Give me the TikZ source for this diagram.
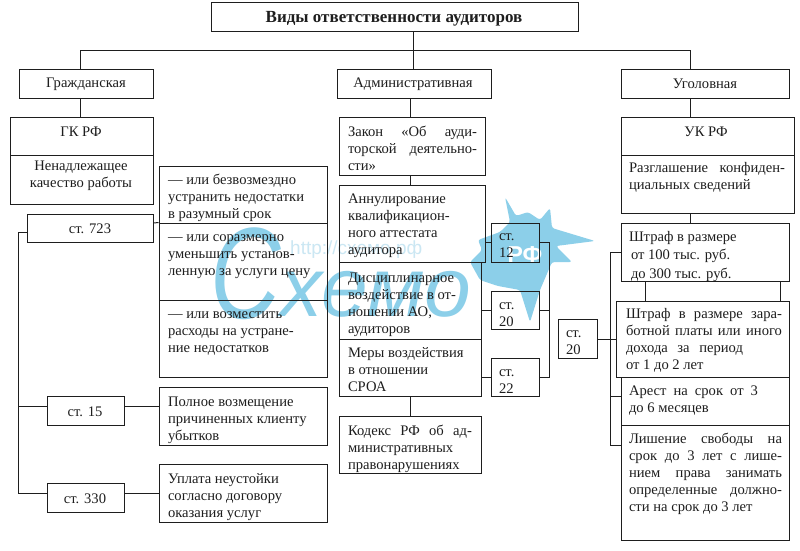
\documentclass[tikz,border=0pt]{standalone}
\usepackage{fontspec}
\setmainfont{Liberation Serif}
\newfontfamily\wmfont{Liberation Sans}
\usetikzlibrary{fit}
\definecolor{ink}{HTML}{1E1E1E}
\definecolor{wmblue}{HTML}{8CCFE9}
\definecolor{wmpale}{HTML}{CBE7F3}
\newcommand\jl[2]{\makebox[#1pt][s]{#2}}
\tikzset{
 x=1pt,y=-1pt,
 box/.style={draw=ink,line width=1pt,inner sep=0pt,rectangle},
 link/.style={draw=ink,line width=1pt},
 txt/.style={text=ink,inner sep=0pt,outer sep=0pt,anchor=north west,align=left,yshift=-2pt,font=\fontsize{14.6}{17}\selectfont},
 ctr/.style={text=ink,inner sep=0pt,outer sep=0pt,align=center,yshift=-1.5pt,font=\fontsize{14.6}{17}\selectfont},
}
\newcommand\bx[5]{\node[box,fit={(#2,#3)(#4,#5)}] (#1) {};}
\begin{document}
\begin{tikzpicture}
\useasboundingbox (0,0) rectangle (800,550);
\fill[white] (0,0) rectangle (800,550);
% watermark
\node[text=wmblue,font=\wmfont\itshape\fontsize{130}{130}\selectfont,inner sep=0pt,anchor=base west,xscale=.75] (wmc) at (210,318) {С};
\node[text=wmblue,font=\wmfont\itshape\fontsize{84}{84}\selectfont,inner sep=0pt,anchor=base west] (wm) at (280,316) {хемо};
\node[text=wmpale,font=\wmfont\fontsize{19}{19}\selectfont,inner sep=0pt,anchor=west] (wmurl) at (290,250) {http://схемо.рф};
\fill[wmblue,rounded corners=2.5pt] (505,197) -- (516,216) -- (528,212) -- (540,220) -- (550,208) -- (552,228) -- (595,241) -- (556,246) -- (572,262) -- (552,262) -- (540,290) -- (530,322) -- (520,290) -- (498,286) -- (480,280) -- (470,262) -- (482,250) -- (478,240) -- (500,232) -- (510,222) -- cycle;
\node[text=white,font=\wmfont\bfseries\fontsize{23}{23}\selectfont,inner sep=0pt] (wmrf) at (525,255) {РФ};
% top
\bx{top}{211}{2}{578}{31}
\node[ctr,font=\bfseries\fontsize{17}{17}\selectfont] (ttop) at (394,17) {Виды ответственности аудиторов};
\bx{civ}{19}{69}{153}{98}
\bx{adm}{337}{69}{491}{98}
\bx{crim}{621}{69}{789}{98}
\node[ctr] (tciv) at (86,83) {Гражданская};
\node[ctr] (tadm) at (413,83) {Административная};
\node[ctr] (tcrim) at (705,82) {Уголовная};
\coordinate (busl) at (80,50); \coordinate (busm) at (413,50); \coordinate (busr) at (690,50);
\draw[link] (civ.north -| busl) -- (busl) -- (busr) -- (crim.north -| busr);
\draw[link] (top.south -| busm) -- (adm.north -| busm);
% left column
\bx{gk}{10}{117}{153}{155}
\bx{nen}{10}{155}{153}{204}
\node[ctr] (tgk) at (81,130) {ГК РФ};
\node[ctr] (tnen) at (81,174) {Ненадлежащее\\качество работы};
\draw[link] (civ.south -| busl) -- (gk.north -| busl);
\bx{a723}{27}{214}{153}{242}
\node[ctr] (ta723) at (90,227) {ст. 723};
\bx{a15}{47}{396}{124}{425}
\node[ctr] (ta15) at (85,410) {ст. 15};
\bx{a330}{47}{483}{124}{512}
\node[ctr] (ta330) at (85,497) {ст. 330};
\bx{r1}{159}{166}{327}{223}
\bx{r2}{159}{223}{327}{300}
\bx{r3}{159}{300}{327}{377}
\bx{r4}{159}{387}{327}{445}
\bx{r5}{159}{464}{327}{522}
\node[txt] (t1) at (168,172) {— или безвозмездно\\устранить недостатки\\в разумный срок};
\node[txt] (t2) at (168,233) {— или соразмерно\\уменьшить установ-\\ленную за услуги цену};
\node[txt] (t3) at (168,310) {— или возместить\\расходы на устране-\\ние недостатков};
\node[txt] (t4) at (168,395) {Полное возмещение\\причиненных клиенту\\убытков};
\node[txt] (t5) at (168,471) {Уплата неустойки\\согласно договору\\оказания услуг};
\coordinate (spl) at (18,232);
\coordinate (spl15) at (18,406);
\coordinate (spl330) at (18,493);
\coordinate (s723) at (153,223);
\draw[link] (a723.west |- spl) -- (spl) -- (spl330) -- (a330.west |- spl330);
\draw[link] (spl15) -- (a15.west |- spl15);
\draw[link] (a15.east |- spl15) -- (r4.west |- spl15);
\draw[link] (a330.east |- spl330) -- (r5.west |- spl330);
\draw[link] (a723.east |- s723) -- (r2.north west);
% middle column
\coordinate (midx) at (410,100);
\bx{zak}{339}{117}{485}{175}
\bx{ann}{339}{185}{485}{262}
\bx{dis}{339}{262}{481}{339}
\bx{mer}{339}{339}{481}{396}
\bx{kod}{339}{416}{481}{473}
\node[txt] (tzak) at (348,124) {\jl{129}{Закон «Об ауди-}\\\jl{129}{торской деятельно-}\\сти»};
\node[txt] (tann) at (348,192) {Аннулирование\\квалификацион-\\ного аттестата\\аудитора};
\node[txt] (tdis) at (348,271) {Дисциплинарное\\воздействие в от-\\ношении АО,\\аудиторов};
\node[txt] (tmer) at (348,345) {Меры воздействия\\в отношении\\СРОА};
\node[txt] (tkod) at (348,423) {\jl{124}{Кодекс РФ об ад-}\\министративных\\правонарушениях};
\draw[link] (adm.south -| midx) -- (zak.north -| midx);
\draw[link] (zak.south -| midx) -- (ann.north -| midx);
\draw[link] (mer.south -| midx) -- (kod.north -| midx);
\bx{a12}{491}{223}{539}{262}
\bx{a20}{491}{291}{539}{329}
\bx{a22}{491}{358}{539}{396}
\node[txt] (ta12) at (499,232) {ст.\\12};
\node[txt] (ta20) at (499,301) {ст.\\20};
\node[txt] (ta22) at (499,368) {ст.\\22};
\coordinate (y12) at (549,242); \coordinate (y20) at (549,310); \coordinate (y22) at (549,377);
\draw[link] (a12.east |- y12) -- (y12) -- (y22) -- (a22.east |- y22);
\draw[link] (a20.east |- y20) -- (y20);
\draw[link] (ann.east |- y12) -- (a12.west |- y12);
\draw[link] (dis.east |- y20) -- (a20.west |- y20);
\draw[link] (mer.east |- y22) -- (a22.west |- y22);
% right column
\coordinate (rx) at (690,100);
\bx{uk}{621}{117}{794}{155}
\bx{raz}{621}{155}{794}{213}
\bx{sh1}{621}{223}{789}{281}
\bx{sh2}{616}{301}{789}{377}
\bx{are}{621}{377}{789}{425}
\bx{lis}{621}{425}{789}{540}
\node[ctr] (tuk) at (706,130) {УК РФ};
\node[txt] (traz) at (629,160) {\jl{156}{Разглашение конфиден-}\\циальных сведений};
\node[txt,font=\fontsize{14.6}{18.5}\selectfont] (tsh1) at (629,229) {Штраф в размере\\\hspace*{2pt}от 100 тыс. руб.\\\hspace*{2pt}до 300 тыс. руб.};
\node[txt] (tsh2) at (626,306) {\jl{156}{Штраф в размере зара-}\\\jl{156}{ботной платы или иного}\\\jl{117}{дохода за период}\\от 1 до 2 лет};
\node[txt] (tare) at (629,384) {\jl{129}{Арест на срок от 3}\\до 6 месяцев};
\node[txt] (tlis) at (629,431) {\jl{153}{Лишение свободы на}\\\jl{153}{срок до 3 лет с лише-}\\\jl{153}{нием права занимать}\\\jl{153}{определенные должно-}\\сти на срок до 3 лет};
\draw[link] (crim.south -| rx) -- (uk.north -| rx);
\draw[link] (raz.south -| rx) -- (sh1.north -| rx);
\coordinate (c1) at (645,290); \coordinate (c2) at (780,290);
\draw[link] (sh1.south -| c1) -- (sh2.north -| c1);
\draw[link] (sh1.south -| c2) -- (sh2.north -| c2);
\bx{a20r}{558}{319}{597}{358}
\node[txt] (ta20r) at (566,329) {ст.\\20};
\coordinate (sp1) at (610,252); \coordinate (sp2) at (610,396); \coordinate (sp3) at (610,445); \coordinate (sp4) at (610,339);
\draw[link] (sh1.west |- sp1) -- (sp1) -- (sp3) -- (lis.west |- sp3);
\draw[link] (sp2) -- (are.west |- sp2);
\draw[link] (a20r.east |- sp4) -- (sh2.west |- sp4);
\end{tikzpicture}
\end{document}
